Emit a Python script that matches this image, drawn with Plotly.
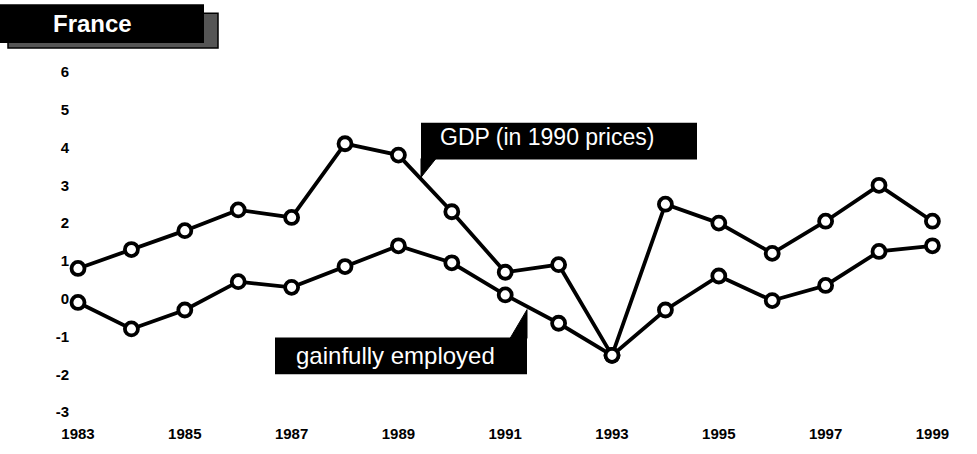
import plotly.graph_objects as go

years = list(range(1983, 2000))
gdp = [0.8, 1.3, 1.8, 2.35, 2.15, 4.1, 3.8, 2.3, 0.7, 0.9, -1.5, 2.5, 2.0, 1.2, 2.05, 3.0, 2.05]
employed = [-0.1, -0.8, -0.3, 0.45, 0.3, 0.85, 1.4, 0.95, 0.1, -0.65, -1.5, -0.3, 0.6, -0.05, 0.35, 1.25, 1.4]
x_ticks = [1983, 1985, 1987, 1989, 1991, 1993, 1995, 1997, 1999]
y_ticks = [-3, -2, -1, 0, 1, 2, 3, 4, 5, 6]

W, H = 977, 454
L, R, T, B = 70, 29, 61, 29
PW, PH = W - L - R, H - T - B


def px(x):
    return (x - L) / PW


def py(y):
    return (H - B - y) / PH


fig = go.Figure()
for vals in (gdp, employed):
    fig.add_trace(go.Scatter(
        x=years, y=vals, mode="lines+markers",
        line=dict(color="black", width=3.8),
        marker=dict(size=13, color="white", line=dict(color="black", width=3.8)),
        cliponaxis=False, showlegend=False, hoverinfo="skip"))

shapes = []
# title box with shadow
shapes.append(dict(type="rect", xref="paper", yref="paper",
                   x0=px(8), x1=px(218), y0=py(48), y1=py(13),
                   fillcolor="#555555", line=dict(color="black", width=1.5)))
shapes.append(dict(type="rect", xref="paper", yref="paper",
                   x0=px(0), x1=px(204), y0=py(43), y1=py(4),
                   fillcolor="black", line=dict(color="black", width=0)))
# GDP label box + pointer
shapes.append(dict(type="rect", xref="paper", yref="paper",
                   x0=px(421), x1=px(697), y0=py(160), y1=py(123),
                   fillcolor="black", line=dict(width=0)))
shapes.append(dict(type="path", xref="paper", yref="paper",
                   path=f"M {px(421)},{py(159)} L {px(436)},{py(159)} L {px(421)},{py(178)} Z",
                   fillcolor="black", line=dict(color="black", width=1)))
# employed label box + pointer
shapes.append(dict(type="rect", xref="paper", yref="paper",
                   x0=px(275), x1=px(527), y0=py(376), y1=py(339),
                   fillcolor="black", line=dict(width=0)))
shapes.append(dict(type="path", xref="paper", yref="paper",
                   path=f"M {px(510)},{py(340)} L {px(527)},{py(340)} L {px(527)},{py(311)} Z",
                   fillcolor="black", line=dict(color="black", width=1)))

annotations = [
    dict(text="France", xref="paper", yref="paper", x=px(92), y=py(23),
         showarrow=False, xanchor="center", yanchor="middle",
         font=dict(family="Liberation Sans", size=24, color="white", weight="bold")),
    dict(text="GDP (in 1990 prices)", xref="paper", yref="paper", x=px(438), y=py(137),
         showarrow=False, xanchor="left", yanchor="middle",
         font=dict(family="Liberation Sans", size=23, color="white")),
    dict(text="gainfully employed", xref="paper", yref="paper", x=px(395), y=py(357),
         showarrow=False, xanchor="center", yanchor="middle",
         font=dict(family="Liberation Sans", size=24, color="white")),
]

fig.update_layout(
    width=W, height=H,
    margin=dict(l=L, r=R, t=T, b=B, pad=0),
    paper_bgcolor="white", plot_bgcolor="white",
    shapes=shapes, annotations=annotations,
    xaxis=dict(range=[1982.85, 1982.85 + PW / 53.4], tickvals=x_ticks,
               ticktext=[str(v) for v in x_ticks], showgrid=False, zeroline=False,
               showline=False, ticks="",
               tickfont=dict(family="Liberation Sans", size=15, color="black", weight="bold")),
    yaxis=dict(range=[(300 - (H - B)) / 38, (300 - T) / 38], tickvals=y_ticks,
               ticktext=[str(v) for v in y_ticks], showgrid=False, zeroline=False,
               showline=False, ticks="",
               tickfont=dict(family="Liberation Sans", size=15, color="black", weight="bold")),
)

fig.write_html("out.html", config={"displayModeBar": False},
               post_script="document.body.style.margin='0';")
